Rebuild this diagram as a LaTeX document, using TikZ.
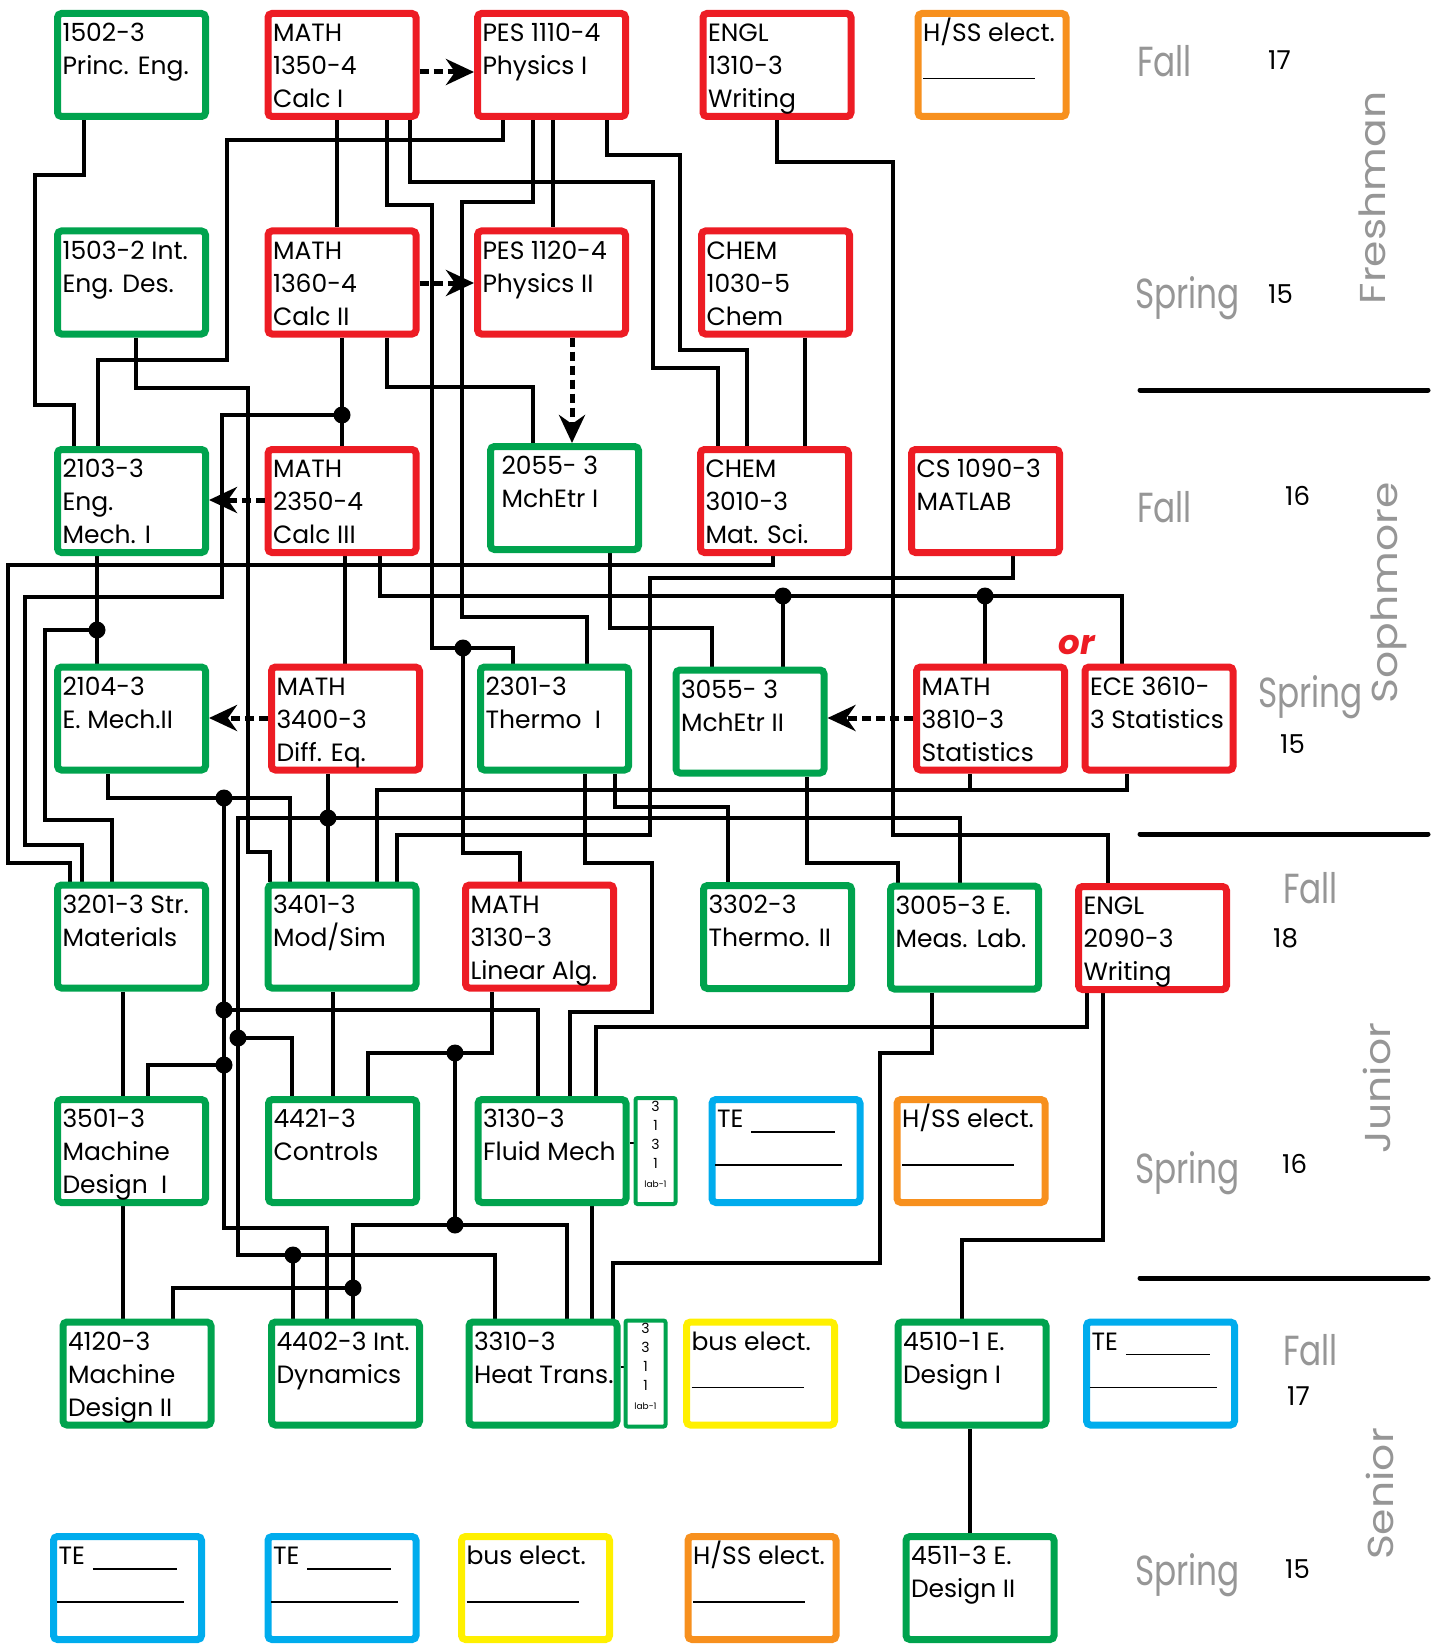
\documentclass[tikz,border=0pt]{standalone}
\usepackage{fontspec}
\usepackage{graphicx}
\setmainfont{Poppins}
\usetikzlibrary{arrows.meta,backgrounds}

\definecolor{cgreen}{RGB}{0,163,78}
\definecolor{cred}{RGB}{237,28,36}
\definecolor{corange}{RGB}{247,144,30}
\definecolor{cblue}{RGB}{0,172,237}
\definecolor{cyellow}{RGB}{255,240,0}
\definecolor{cgray}{RGB}{150,150,150}

% text inside a course box, top left
\newcommand{\ctext}[1]{\parbox[c][103pt][t]{148pt}{\raggedright\leftskip=5pt\vspace*{2pt}\rule{0pt}{26pt}#1}}
\newcommand{\labtext}[1]{\parbox[c][106pt][t]{40pt}{\centering\fontsize{14}{19}\selectfont\vspace*{3pt}#1}}
\newcommand{\blank}[2][-5pt]{\rule[#1]{#2}{1.2pt}}

\begin{document}
\begin{tikzpicture}[x=1pt,y=-1pt,
  course/.style={draw=#1, line width=7pt, rounded corners=4pt, fill=white, inner sep=0pt, font=\fontsize{25}{33}\selectfont},
  labbox/.style={draw=cgreen, line width=4pt, rounded corners=2pt, fill=white, inner sep=0pt},
  wire/.style={line width=4.6pt},
  prereq/.style={line width=5pt, dash pattern=on 9pt off 5pt, -{Stealth[length=28pt,width=26pt,inset=9pt]}},
  sem/.style={text=cgray, font=\fontsize{42}{42}\selectfont, anchor=base west, inner sep=0pt},
  credits/.style={font=\fontsize{26}{26}\selectfont, anchor=base west, inner sep=0pt},
  yearlbl/.style={text=cgray, font=\fontsize{36}{36}\selectfont, rotate=90, anchor=base, inner sep=0pt},
  divider/.style={line width=5pt, line cap=round}]
  \useasboundingbox (0,0) rectangle (1432,1645);

  % freshman
  \node[course=cgreen] (p1502) at (131.5,65) {\ctext{1502-3\\Princ. Eng.}};
  \node[course=cred] (m1350) at (342,65) {\ctext{MATH\\1350-4\\Calc I}};
  \node[course=cred] (p1110) at (551.5,65) {\ctext{PES 1110-4\\Physics I}};
  \node[course=cred] (e1310) at (777,65) {\ctext{ENGL\\1310-3\\Writing}};
  \node[course=corange] (hss1) at (992,65) {\ctext{H/SS elect.\\\blank{112pt}}};
  \node[course=cgreen] (p1503) at (131.5,282.5) {\ctext{1503-2 Int.\\Eng. Des.}};
  \node[course=cred] (m1360) at (342,282.5) {\ctext{MATH\\1360-4\\Calc II}};
  \node[course=cred] (p1120) at (551.5,282.5) {\ctext{PES 1120-4\\Physics II}};
  \node[course=cred] (c1030) at (775.5,282.5) {\ctext{CHEM\\1030-5\\Chem}};

  % sophmore
  \node[course=cgreen] (p2103) at (131.5,501) {\ctext{2103-3\\Eng.\\Mech. I}};
  \node[course=cred] (m2350) at (342,501) {\ctext{MATH\\2350-4\\Calc III}};
  \node[course=cgreen] (p2055) at (564.5,498) {\ctext{\hspace*{6pt}2055- 3\\\hspace*{6pt}MchEtr I}};
  \node[course=cred] (c3010) at (774.5,501) {\ctext{CHEM\\3010-3\\Mat. Sci.}};
  \node[course=cred] (cs1090) at (985.5,501) {\ctext{CS 1090-3\\MATLAB}};
  \node[course=cgreen] (p2104) at (131.5,718.5) {\ctext{2104-3\\E. Mech.II}};
  \node[course=cred] (m3400) at (345.5,718.5) {\ctext{MATH\\3400-3\\Diff. Eq.}};
  \node[course=cgreen] (p2301) at (554.5,718.5) {\ctext{2301-3\\Thermo\ \ I}};
  \node[course=cgreen] (p3055) at (750,721.5) {\ctext{3055- 3\\MchEtr II}};
  \node[course=cred] (m3810) at (990.5,718.5) {\ctext{MATH\\3810-3\\Statistics}};
  \node[course=cred] (ece3610) at (1159,718.5) {\ctext{ECE 3610-\\3 Statistics}};
  \node[text=cred, font=\bfseries\itshape\fontsize{34}{34}\selectfont, inner sep=0pt] (orlbl) at (1077,645) {or};

  % junior
  \node[course=cgreen] (p3201) at (131.5,936.5) {\ctext{3201-3 Str.\\Materials}};
  \node[course=cgreen] (p3401) at (342,936.5) {\ctext{3401-3\\Mod/Sim}};
  \node[course=cred] (m3130) at (539.5,936.5) {\ctext{MATH\\3130-3\\Linear Alg.}};
  \node[course=cgreen] (p3302) at (777.5,937) {\ctext{3302-3\\Thermo. II}};
  \node[course=cgreen] (p3005) at (964.5,937.5) {\ctext{3005-3 E.\\Meas. Lab.}};
  \node[course=cred] (e2090) at (1152.5,938) {\ctext{ENGL\\2090-3\\Writing}};
  \node[course=cgreen] (p3501) at (131.5,1151) {\ctext{3501-3\\Machine\\Design\ \ I}};
  \node[course=cgreen] (p4421) at (342.5,1151) {\ctext{4421-3\\Controls}};
  \node[course=cgreen] (p3130) at (552,1151) {\ctext{3130-3\\Fluid Mech}};
  \node[labbox] (lab3131) at (655.5,1151) {\labtext{3\\1\\3\\1\\{\fontsize{9}{12}\selectfont lab-1}}};
  \node[course=cblue] (te1) at (786,1151) {\ctext{TE\hspace{8pt}\blank{84pt}\\\hspace*{-2pt}\blank{127pt}}};
  \node[course=corange] (hss2) at (971,1151) {\ctext{H/SS elect.\\\blank{112pt}}};

  % senior
  \node[course=cgreen] (p4120) at (137,1373.5) {\ctext{4120-3\\Machine\\Design II}};
  \node[course=cgreen] (p4402) at (345.5,1373.5) {\ctext{4402-3 Int.\\Dynamics}};
  \node[course=cgreen] (p3310) at (543,1373.5) {\ctext{3310-3\\Heat Trans.}};
  \node[labbox] (lab3311) at (645.5,1373.5) {\labtext{3\\3\\1\\1\\{\fontsize{9}{12}\selectfont lab-1}}};
  \node[course=cyellow] (bus1) at (760.5,1373.5) {\ctext{bus elect.\\\blank{112pt}}};
  \node[course=cgreen] (p4510) at (972,1373.5) {\ctext{4510-1 E.\\Design I}};
  \node[course=cblue] (te2) at (1160.5,1373.5) {\ctext{TE\hspace{8pt}\blank{84pt}\\\hspace*{-2pt}\blank{127pt}}};
  \node[course=cblue] (te3) at (127.5,1588) {\ctext{TE\hspace{8pt}\blank{84pt}\\\hspace*{-2pt}\blank{127pt}}};
  \node[course=cblue] (te4) at (342,1588) {\ctext{TE\hspace{8pt}\blank{84pt}\\\hspace*{-2pt}\blank{127pt}}};
  \node[course=cyellow] (bus2) at (535.5,1588) {\ctext{bus elect.\\\blank{112pt}}};
  \node[course=corange] (hss3) at (762,1588) {\ctext{H/SS elect.\\\blank{112pt}}};
  \node[course=cgreen] (p4511) at (980,1588) {\ctext{4511-3 E.\\Design II}};

  % semesters
  \node[sem] (f1) at (1137,77) {\scalebox{0.78}[1]{Fall}};
  \node[sem] (s1) at (1135,308) {\scalebox{0.78}[1]{Spring}};
  \node[sem] (f2) at (1137,522) {\scalebox{0.78}[1]{Fall}};
  \node[sem] (s2) at (1258,707) {\scalebox{0.78}[1]{Spring}};
  \node[sem] (f3) at (1283,903) {\scalebox{0.78}[1]{Fall}};
  \node[sem] (s3) at (1135,1183) {\scalebox{0.78}[1]{Spring}};
  \node[sem] (f4) at (1283,1365) {\scalebox{0.78}[1]{Fall}};
  \node[sem] (s4) at (1135,1585) {\scalebox{0.78}[1]{Spring}};
  \node[credits] (n1) at (1268,70) {17};
  \node[credits] (n2) at (1268,303) {15};
  \node[credits] (n3) at (1285,505) {16};
  \node[credits] (n4) at (1280,753) {15};
  \node[credits] (n5) at (1273,947) {18};
  \node[credits] (n6) at (1282,1173) {16};
  \node[credits] (n7) at (1287,1405) {17};
  \node[credits] (n8) at (1285,1578) {15};
  \node[yearlbl] (y1) at (1385,198) {\scalebox{1.18}[1]{Freshman}};
  \node[yearlbl] (y2) at (1397,593) {\scalebox{1.18}[1]{Sophmore}};
  \node[yearlbl] (y3) at (1390,1088) {\scalebox{1.18}[1]{Junior}};
  \node[yearlbl] (y4) at (1393,1494) {\scalebox{1.18}[1]{Senior}};
  \draw[divider] (1140,390) -- (1428,390);
  \draw[divider] (1140,834) -- (1428,834);
  \draw[divider] (1140,1278) -- (1428,1278);

  % junctions
  \coordinate (j1) at (463,648);
  \coordinate (j2) at (342,415);
  \coordinate (j3) at (97,630);
  \coordinate (j4) at (783,596);
  \coordinate (j5) at (985,596);
  \coordinate (j6) at (224,798);
  \coordinate (j7) at (224,1010);
  \coordinate (j8) at (224,1065);
  \coordinate (j9) at (328,818);
  \coordinate (j10) at (238,1038);
  \coordinate (j11) at (293,1255);
  \coordinate (j12) at (455,1053);
  \coordinate (j13) at (455,1225);
  \coordinate (j14) at (353,1288);
  \foreach \j in {j1,j2,j3,j4,j5,j6,j7,j8,j9,j10,j11,j12,j13,j14}
    \fill (\j) circle[radius=8.5pt];

  % prerequisites
  \begin{scope}[on background layer]
    \draw[wire] (p1502.south -| 84,0) -- (84,175) -- (35,175) -- (35,405) -- (74,405) -- (p2103.north -| 74,0);
    \draw[wire] (p1503.south -| 136,0) -- (136,388) -- (248,388) -- (248,852) -- (270,852) -- (p3401.north -| 270,0);
    \draw[wire] (p1110.south -| 503,0) -- (503,140) -- (227,140) -- (227,360) -- (98,360) -- (p2103.north -| 98,0);
    \draw[wire] (m1350.south -| 337,0) -- (m1360.north -| 337,0);
    \draw[wire] (m1350.south -| 387,0) -- (387,205) -- (432,205) -- (432,648) -- (j1) -- (513,648) -- (p2301.north -| 513,0);
    \draw[wire] (j1) -- (463,853) -- (520,853) -- (m3130.north -| 520,0);
    \draw[wire] (m1350.south -| 410,0) -- (410,182) -- (653,182) -- (653,368) -- (718,368) -- (c3010.north -| 718,0);
    \draw[wire] (p1110.south -| 533,0) -- (533,202) -- (462,202) -- (462,617) -- (587,617) -- (p2301.north -| 587,0);
    \draw[wire] (p1110.south -| 553,0) -- (p1120.north -| 553,0);
    \draw[wire] (p1110.south -| 607,0) -- (607,155) -- (680,155) -- (680,350) -- (747,350) -- (c3010.north -| 747,0);
    \draw[wire] (e1310.south -| 777,0) -- (777,162) -- (893,162) -- (893,835) -- (1108,835) -- (e2090.north -| 1108,0);
    \draw[wire] (m1360.south -| 342,0) -- (m2350.north -| 342,0);
    \draw[wire] (j2) -- (222,415) -- (222,597) -- (25,597) -- (25,845) -- (82,845) -- (p3201.north -| 82,0);
    \draw[wire] (m1360.south -| 387,0) -- (387,387) -- (533,387) -- (p2055.north -| 533,0);
    \draw[wire] (c1030.south -| 805,0) -- (c3010.north -| 805,0);
    \draw[wire] (p2103.south -| 97,0) -- (p2104.north -| 97,0);
    \draw[wire] (j3) -- (45,630) -- (45,820) -- (112,820) -- (p3201.north -| 112,0);
    \draw[wire] (c3010.south -| 773,0) -- (773,565) -- (8,565) -- (8,863) -- (70,863) -- (p3201.north -| 70,0);
    \draw[wire] (m2350.south -| 345,0) -- (m3400.north -| 345,0);
    \draw[wire] (m2350.south -| 380,0) -- (380,596) -- (1122,596) -- (ece3610.north -| 1122,0);
    \draw[wire] (j4) -- (p3055.north -| j4);
    \draw[wire] (j5) -- (m3810.north -| j5);
    \draw[wire] (cs1090.south -| 1013,0) -- (1013,578) -- (650,578) -- (650,835) -- (397,835) -- (p3401.north -| 397,0);
    \draw[wire] (p2055.south -| 610,0) -- (610,628) -- (712,628) -- (p3055.north -| 712,0);
    \draw[wire] (p2104.south -| 108,0) -- (108,798) -- (290,798) -- (p3401.north -| 290,0);
    \draw[wire] (j6) -- (224,1228) -- (327,1228) -- (p4402.north -| 327,0);
    \draw[wire] (j7) -- (538,1010) -- (p3130.north -| 538,0);
    \draw[wire] (j8) -- (148,1065) -- (p3501.north -| 148,0);
    \draw[wire] (m3400.south -| 328,0) -- (p3401.north -| 328,0);
    \draw[wire] (j9) -- (238,818) -- (238,1255) -- (495,1255) -- (p3310.north -| 495,0);
    \draw[wire] (j9) -- (960,818) -- (p3005.north -| 960,0);
    \draw[wire] (j10) -- (292,1038) -- (p4421.north -| 292,0);
    \draw[wire] (j11) -- (p4402.north -| j11);
    \draw[wire] (m3810.south -| 970,0) -- (970,790) -- (377,790) -- (p3401.north -| 377,0);
    \draw[wire] (ece3610.south -| 1127,0) -- (1127,790) -- (970,790);
    \draw[wire] (p2301.south -| 615,0) -- (615,807) -- (728,807) -- (p3302.north -| 728,0);
    \draw[wire] (p2301.south -| 585,0) -- (585,863) -- (652,863) -- (652,1012) -- (570,1012) -- (p3130.north -| 570,0);
    \draw[wire] (p3055.south -| 807,0) -- (807,863) -- (898,863) -- (p3005.north -| 898,0);
    \draw[wire] (p3201.south -| 123,0) -- (p3501.north -| 123,0);
    \draw[wire] (p3401.south -| 333,0) -- (p4421.north -| 333,0);
    \draw[wire] (m3130.south -| 492,0) -- (492,1053) -- (368,1053) -- (p4421.north -| 368,0);
    \draw[wire] (j12) -- (j13) -- (353,1225) -- (p4402.north -| 353,0);
    \draw[wire] (j14) -- (173,1288) -- (p4120.north -| 173,0);
    \draw[wire] (j13) -- (567,1225) -- (p3310.north -| 567,0);
    \draw[wire] (e2090.south -| 1087,0) -- (1087,1027) -- (596,1027) -- (p3130.north -| 596,0);
    \draw[wire] (p3005.south -| 932,0) -- (932,1053) -- (880,1053) -- (880,1263) -- (613,1263) -- (p3310.north -| 613,0);
    \draw[wire] (e2090.south -| 1103,0) -- (1103,1240) -- (962,1240) -- (p4510.north -| 962,0);
    \draw[wire] (p3130.south -| 592,0) -- (p3310.north -| 592,0);
    \draw[wire] (p3501.south -| 123,0) -- (p4120.north -| 123,0);
    \draw[wire] (p4510.south -| 970,0) -- (p4511.north -| 970,0);
    \draw[line width=2pt] (p3130.east |- 0,1143) -- (lab3131.west |- 0,1143);
    \draw[line width=2pt] (p3310.east |- 0,1367) -- (lab3311.west |- 0,1367);
  \end{scope}

  % corequisites
  \draw[prereq] (m1350.east |- 0,72) -- (p1110.west |- 0,72);
  \draw[prereq] (m1360.east |- 0,283) -- (p1120.west |- 0,283);
  \draw[prereq] (m2350.west |- 0,500) -- (p2103.east |- 0,500);
  \draw[prereq] (m3400.west |- 0,718) -- (p2104.east |- 0,718);
  \draw[prereq] (m3810.west |- 0,718) -- (p3055.east |- 0,718);
  \draw[prereq] (p1120.south -| 572,0) -- (p2055.north -| 572,0);
\end{tikzpicture}
\end{document}
